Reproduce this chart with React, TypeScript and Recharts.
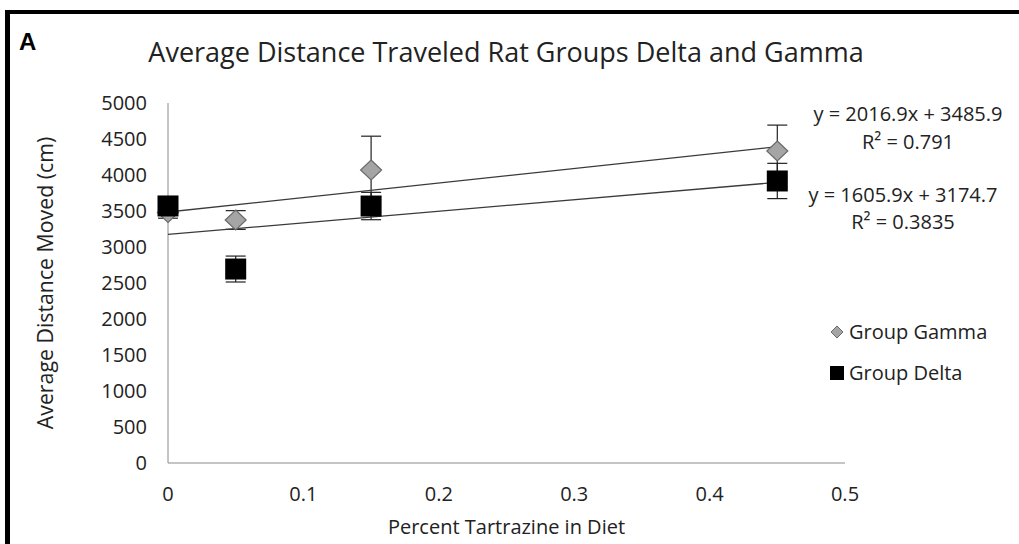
import React from 'react';
import { ScatterChart, Scatter, XAxis, YAxis, ErrorBar, Label } from 'recharts';

const xTicks = [0, 0.1, 0.2, 0.3, 0.4, 0.5];
const yTicks = [0, 500, 1000, 1500, 2000, 2500, 3000, 3500, 4000, 4500, 5000];
const doses = [0, 0.05, 0.15, 0.45];
const gammaMeans = [3480, 3375, 4069, 4333];
const gammaErr = [80, 130, 470, 360];
const deltaMeans = [3570, 2694, 3569, 3917];
const deltaErr = [80, 180, 190, 245];
const trendX = [0, 0.45];
const gammaTrend = [3485.9, 4393.5];
const deltaTrend = [3174.7, 3897.4];

const gammaData = doses.map((x, i) => ({ x, y: gammaMeans[i], err: gammaErr[i] }));
const deltaData = doses.map((x, i) => ({ x, y: deltaMeans[i], err: deltaErr[i] }));
const gammaLine = trendX.map((x, i) => ({ x, y: gammaTrend[i] }));
const deltaLine = trendX.map((x, i) => ({ x, y: deltaTrend[i] }));

const FONT = '"Open Sans", sans-serif';
const TXT = '#222';

const Diamond = (p: any) => {
  const { cx, cy } = p;
  if (cx == null || cy == null) return <g />;
  const w = 10.5, h = 10;
  return (
    <polygon
      points={`${cx},${cy - h} ${cx + w},${cy} ${cx},${cy + h} ${cx - w},${cy}`}
      fill="#a5a5a5"
      stroke="#6a6a6a"
      strokeWidth={1.2}
    />
  );
};

const Square = (p: any) => {
  const { cx, cy } = p;
  if (cx == null || cy == null) return <g />;
  const s = 21;
  return <rect x={cx - s / 2} y={cy - s / 2} width={s} height={s} fill="#000" />;
};

const NoDot = () => <g />;

export default function App() {
  return (
    <div style={{ position: 'absolute', left: 0, top: 0, width: 1019, height: 544, background: '#fff', overflow: 'hidden' }}>
      <div style={{ position: 'absolute', left: 5, top: 10, width: 1014, height: 4, background: '#000' }} />
      <div style={{ position: 'absolute', left: 5, top: 10, width: 5, height: 534, background: '#000' }} />
      <div style={{ position: 'absolute', left: 0, top: 0 }}>
        <ScatterChart width={1019} height={544} margin={{ top: 103, right: 174, bottom: 0, left: 28 }}>
          <XAxis
            type="number"
            dataKey="x"
            domain={[0, 0.5]}
            ticks={xTicks}
            height={81}
            stroke="#8a8a8a"
            tickLine={false}
            tickSize={0}
            tickMargin={24}
            tick={{ fontSize: 20, fill: TXT, fontFamily: FONT }}
          >
            <Label
              value="Percent Tartrazine in Diet"
              position="insideBottom"
              offset={10}
              style={{ fontSize: 20, fill: TXT, fontFamily: FONT }}
            />
          </XAxis>
          <YAxis
            type="number"
            dataKey="y"
            domain={[0, 5000]}
            ticks={yTicks}
            width={140}
            stroke="#8a8a8a"
            tickLine={false}
            tickSize={0}
            tickMargin={21}
            tick={{ fontSize: 20, fill: TXT, fontFamily: FONT }}
          >
            <Label
              value="Average Distance Moved (cm)"
              angle={-90}
              position="insideLeft"
              offset={17}
              style={{ fontSize: 21.3, fill: TXT, fontFamily: FONT, textAnchor: 'middle' }}
            />
          </YAxis>
          <Scatter data={gammaLine} line={{ stroke: '#3a3a3a', strokeWidth: 1.3 }} shape={NoDot} isAnimationActive={false} legendType="none" />
          <Scatter data={deltaLine} line={{ stroke: '#3a3a3a', strokeWidth: 1.3 }} shape={NoDot} isAnimationActive={false} legendType="none" />
          <Scatter name="Group Gamma" data={gammaData} shape={Diamond} isAnimationActive={false}>
            <ErrorBar dataKey="err" direction="y" width={10} stroke="#222" strokeWidth={1.2} />
          </Scatter>
          <Scatter name="Group Delta" data={deltaData} shape={Square} isAnimationActive={false}>
            <ErrorBar dataKey="err" direction="y" width={10} stroke="#222" strokeWidth={1.2} />
          </Scatter>
        </ScatterChart>
      </div>
      <svg width={1019} height={544} style={{ position: 'absolute', left: 0, top: 0, pointerEvents: 'none' }}>
        <text x={19} y={50} fontSize={24} fontWeight="bold" fontFamily='"Liberation Sans", Arial, sans-serif' fill="#000">A</text>
        <text x={506} y={62} fontSize={27} textAnchor="middle" fontFamily={FONT} fill={TXT}>
          Average Distance Traveled Rat Groups Delta and Gamma
        </text>
        <text x={908} y={121} fontSize={20} textAnchor="middle" fontFamily={FONT} fill={TXT}>y = 2016.9x + 3485.9</text>
        <text x={908} y={149} fontSize={20} textAnchor="middle" fontFamily={FONT} fill={TXT}>R² = 0.791</text>
        <text x={903} y={202} fontSize={20} textAnchor="middle" fontFamily={FONT} fill={TXT}>y = 1605.9x + 3174.7</text>
        <text x={903} y={229} fontSize={20} textAnchor="middle" fontFamily={FONT} fill={TXT}>R² = 0.3835</text>
        <polygon points="837,326 843,332 837,338 831,332" fill="#a5a5a5" stroke="#6a6a6a" strokeWidth={1} />
        <text x={849} y={339} fontSize={20} fontFamily={FONT} fill={TXT}>Group Gamma</text>
        <rect x={830} y={366} width={14} height={14} fill="#000" />
        <text x={849} y={380} fontSize={20} fontFamily={FONT} fill={TXT}>Group Delta</text>
      </svg>
    </div>
  );
}
